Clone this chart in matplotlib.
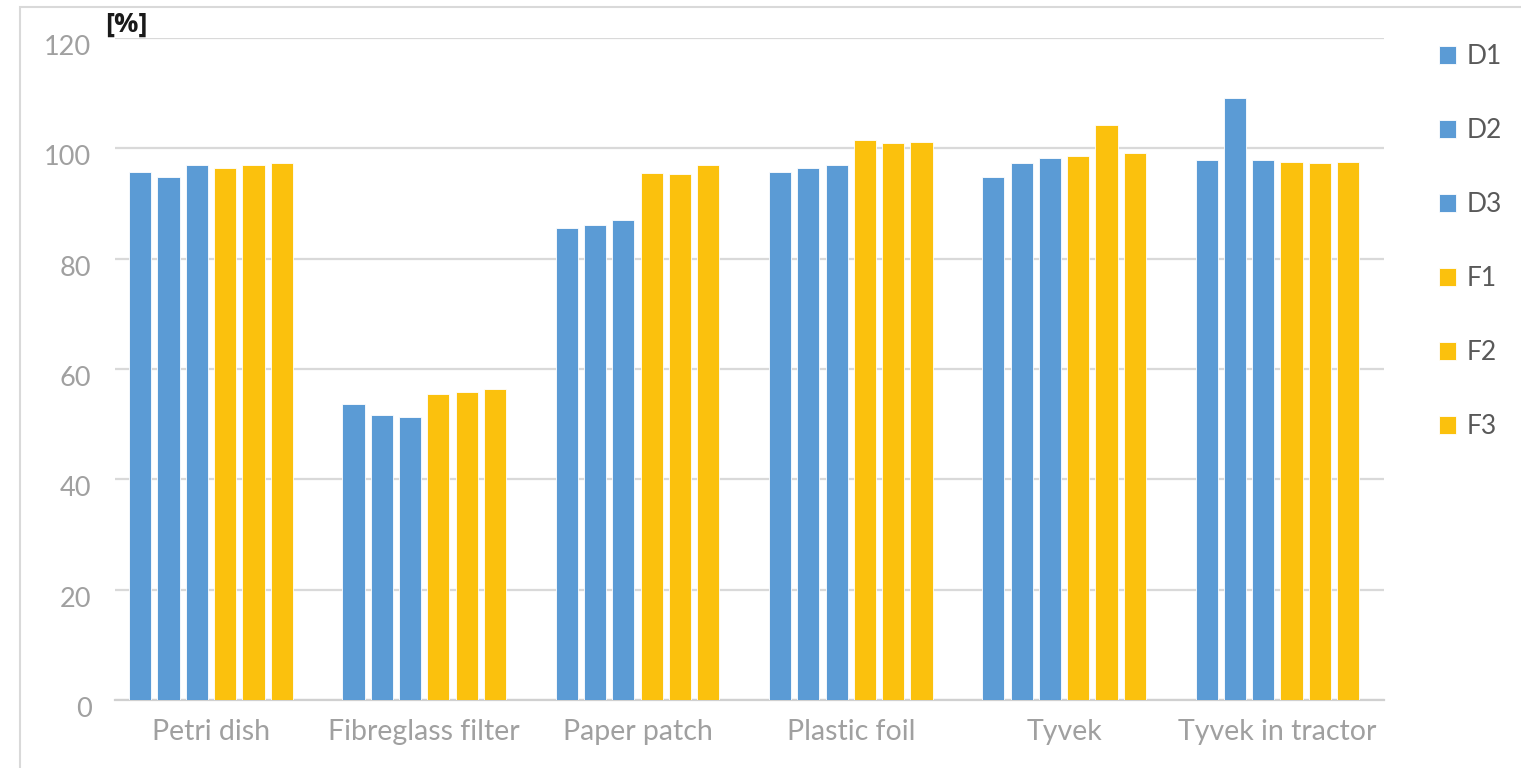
import numpy as np
import matplotlib
matplotlib.use("Agg")
import matplotlib.pyplot as plt
from matplotlib.patches import Rectangle
from matplotlib.transforms import ScaledTranslation

categories = ["Petri dish", "Fibreglass filter", "Paper patch", "Plastic foil", "Tyvek", "Tyvek in tractor"]
series_names = ["D1", "D2", "D3", "F1", "F2", "F3"]

D1 = [95.7, 53.7, 85.6, 95.7, 94.8, 97.8]
D2 = [94.8, 51.7, 86.1, 96.4, 97.3, 109.2]
D3 = [96.9, 51.3, 87.0, 96.9, 98.2, 97.8]
F1 = [96.4, 55.5, 95.5, 101.6, 98.7, 97.5]
F2 = [96.9, 55.9, 95.3, 100.9, 104.3, 97.3]
F3 = [97.3, 56.4, 96.9, 101.1, 99.1, 97.5]

blue = "#5B9BD5"
gold = "#FBC10D"
colors = [blue, blue, blue, gold, gold, gold]
values = [D1, D2, D3, F1, F2, F3]

plt.rcParams['font.family'] = ['Lato', 'DejaVu Sans']

W, H = 1521, 768
fig = plt.figure(figsize=(W / 100, H / 100), dpi=100)

# light outer frame like the exported chart area
fig.patches.append(Rectangle((20 / W, -0.05), 1.1, 1 - 7 / H + 0.05, transform=fig.transFigure,
                             fill=False, edgecolor="#D9D9D9", linewidth=1.5))

left, right = 115 / W, 1384 / W
bottom, top = (H - 700) / H, (H - 38) / H
ax = fig.add_axes([left, bottom, right - left, top - bottom])

x = np.arange(len(categories))
step = 0.1327
width = 0.104
for i, (name, vals) in enumerate(zip(series_names, values)):
    offs = (i - 2.5) * step
    ax.bar(x + offs, vals, width, color=colors[i], label=name, zorder=3,
           edgecolor="white", linewidth=0.6)

ax.set_xlim(-0.45, 5.5)
ax.set_ylim(0, 120)
ax.set_yticks(np.arange(0, 121, 20))
ax.set_xticks(x)
ax.set_xticklabels(categories)

ax.yaxis.grid(True, color="#D9D9D9", linewidth=1.6, zorder=0)
ax.set_axisbelow(True)
for s in ["top", "right", "left"]:
    ax.spines[s].set_visible(False)
ax.spines["bottom"].set_color("#D0D0D0")
ax.spines["bottom"].set_linewidth(1.6)
ax.tick_params(axis="both", length=0, colors="#A0A0A0")
ax.tick_params(axis="y", pad=17, labelsize=19.5)
ax.tick_params(axis="x", pad=14, labelsize=20.5)
for lab in ax.get_yticklabels():
    lab.set_transform(lab.get_transform() + ScaledTranslation(0, -5 / 72, fig.dpi_scale_trans))

fig.text(126 / W, 1 - 25 / H, "[%]", ha="center", va="center", fontsize=19.5,
         fontweight="bold", color="#1A1A1A", family=["Open Sans", "DejaVu Sans"])

leg = fig.legend(loc="upper left", bbox_to_anchor=(1439 / W, 1 - 44 / H), frameon=False,
                 fontsize=19, labelspacing=1.86, handlelength=0.65, handleheight=0.65,
                 handletextpad=0.4, borderaxespad=0, borderpad=0)
for t in leg.get_texts():
    t.set_color("#595959")

fig.savefig("out.png", dpi=100)
